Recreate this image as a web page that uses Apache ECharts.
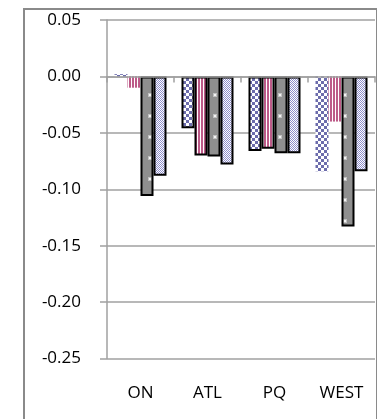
<!DOCTYPE html>
<html>
<head>
<meta charset="utf-8">
<script src="https://cdn.jsdelivr.net/npm/echarts@6/dist/echarts.min.js"></script>
<style>
  html, body { margin: 0; padding: 0; background: #fff; }
  #chart { width: 377px; height: 419px; }
</style>
</head>
<body>
<div id="chart"></div>
<script>
// Regions on the category axis
const categories = ['ON', 'ATL', 'PQ', 'WEST'];

// Four series of effects per region
const seriesA = [0.002, -0.046, -0.066, -0.084];
const seriesB = [-0.010, -0.070, -0.064, -0.040];
const seriesC = [-0.106, -0.071, -0.068, -0.133];
const seriesD = [-0.088, -0.078, -0.068, -0.084];

// Which bars carry a black outline
const outlinedA = [false, true, true, false];
const outlinedB = [false, true, true, false];
const outlinedC = [true, true, true, true];
const outlinedD = [true, true, true, true];

// Value axis range and step
const yMin = -0.25;
const yMax = 0.05;
const yStep = 0.05;

// --- fill patterns -------------------------------------------------------
function tile(w, h, draw) {
  const c = document.createElement('canvas');
  c.width = w; c.height = h;
  const ctx = c.getContext('2d');
  draw(ctx);
  return { image: c, repeat: 'repeat' };
}

// checkerboard
const checkerFill = tile(6, 6, ctx => {
  ctx.fillStyle = '#ffffff'; ctx.fillRect(0, 0, 6, 6);
  ctx.fillStyle = '#6c6cac';
  ctx.fillRect(0, 0, 3, 3);
  ctx.fillRect(3, 3, 3, 3);
});

// vertical stripes
const stripeFill = tile(3, 4, ctx => {
  ctx.fillStyle = '#ffffff'; ctx.fillRect(0, 0, 3, 4);
  ctx.fillStyle = '#bd5a88'; ctx.fillRect(0, 0, 2, 4);
});

// grey with sparse white dots
const dottedFill = tile(13, 21, ctx => {
  ctx.fillStyle = '#8f8f8f'; ctx.fillRect(0, 0, 13, 21);
  ctx.fillStyle = 'rgba(255,255,255,0.45)'; ctx.fillRect(5, 9, 4, 4);
  ctx.fillStyle = '#f4f4f4'; ctx.fillRect(6, 10, 2, 2);
});

// fine lavender checker
const fineFill = tile(4, 4, ctx => {
  ctx.fillStyle = '#ffffff'; ctx.fillRect(0, 0, 4, 4);
  ctx.fillStyle = '#8e8ecb';
  ctx.fillRect(0, 0, 1, 1); ctx.fillRect(2, 0, 1, 1);
  ctx.fillRect(1, 1, 1, 1); ctx.fillRect(3, 1, 1, 1);
  ctx.fillRect(0, 2, 1, 1); ctx.fillRect(2, 2, 1, 1);
  ctx.fillRect(1, 3, 1, 1); ctx.fillRect(3, 3, 1, 1);
});

function barData(values, outlined) {
  return values.map((v, i) => ({
    value: v,
    itemStyle: outlined[i] ? { borderColor: '#000', borderWidth: 2 } : { borderWidth: 0 }
  }));
}

function barSeries(name, values, outlined, fill) {
  return {
    name: name,
    type: 'bar',
    xAxisIndex: 0,
    barWidth: 13,
    barGap: '0%',
    itemStyle: { color: fill },
    data: barData(values, outlined),
    z: 3
  };
}

const gridGrey = '#a0a0a0';
const textFont = { fontFamily: 'Open Sans', fontSize: 17, color: '#000' };

const chart = echarts.init(document.getElementById('chart'), null, { renderer: 'canvas' });

chart.setOption({
  animation: false,
  backgroundColor: '#fff',
  grid: { left: 107, right: 2, top: 20, bottom: 60.5, containLabel: false },
  xAxis: [
    {
      type: 'category',
      data: categories,
      position: 'top',
      axisLine: { show: true, onZero: true, lineStyle: { color: gridGrey, width: 1.5 } },
      axisTick: { show: true, inside: true, length: 6, lineStyle: { color: gridGrey, width: 1.5 } },
      axisLabel: { show: false },
      splitLine: { show: false },
      z: 5
    },
    {
      type: 'category',
      data: categories,
      position: 'bottom',
      axisLine: { show: false, onZero: false },
      axisTick: { show: false },
      axisLabel: Object.assign({ show: true, margin: 26 }, textFont),
      splitLine: { show: false }
    }
  ],
  yAxis: {
    type: 'value',
    min: yMin,
    max: yMax,
    interval: yStep,
    axisLine: { show: true, lineStyle: { color: gridGrey, width: 1.5 } },
    axisTick: { show: true, length: 7, lineStyle: { color: gridGrey, width: 1.5 } },
    axisLabel: Object.assign({
      margin: 26,
      formatter: v => (Math.abs(v) < 1e-9 ? 0 : v).toFixed(2)
    }, textFont),
    splitLine: { show: true, lineStyle: { color: gridGrey, width: 1.5 } }
  },
  graphic: [
    {
      type: 'rect',
      left: 21.5, top: 6.5,
      shape: { x: 0, y: 0, width: 353, height: 440 },
      style: { fill: 'none', stroke: '#8a8a8a', lineWidth: 2 },
      silent: true,
      z: 10
    }
  ],
  series: [
    barSeries('A', seriesA, outlinedA, checkerFill),
    barSeries('B', seriesB, outlinedB, stripeFill),
    barSeries('C', seriesC, outlinedC, dottedFill),
    barSeries('D', seriesD, outlinedD, fineFill)
  ]
});
</script>
</body>
</html>
